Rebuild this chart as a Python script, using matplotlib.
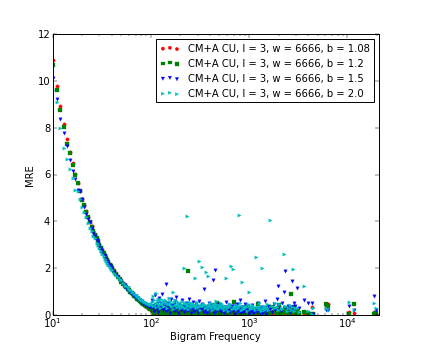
#!/usr/bin/env python
"""
MRE against bigram frequency, CM+A CU sketches with different b
"""
import matplotlib
matplotlib.use("Agg")
import matplotlib.pyplot as plt

# true frequencies (shared by all four runs)
freq_low = [10, 11, 12, 13, 14, 15, 16, 17, 18, 19,
            20, 21, 22, 23, 24, 25, 26, 27, 28, 29,
            30, 31, 32, 33, 34, 35, 36, 37, 38, 39, 40,
            42, 44, 46, 48, 50, 52, 54, 56, 58, 60,
            62, 64, 66, 68, 70, 72, 74, 76, 78, 80,
            82, 84, 86, 88, 90, 92, 94, 96, 98, 100]
freq_high = [103, 106, 110, 113, 117, 121, 126, 130, 134, 139,
             144, 149, 153, 159, 164, 170, 175, 181, 188, 194,
             201, 207, 214, 219, 226, 231, 237, 245, 253, 261,
             270, 281, 289, 298, 308, 318, 329, 340, 351, 361,
             378, 390, 402, 415, 428, 446, 459, 474, 490, 507,
             524, 543, 563, 586, 604, 627, 658, 683, 707, 731,
             758, 783, 812, 843, 871, 903, 935, 968, 1010, 1045,
             1083, 1124, 1180, 1226, 1272, 1316, 1358, 1405, 1458, 1514,
             1566, 1652, 1713, 1775, 1852, 1910, 1972, 2040, 2115, 2190,
             2286, 2342, 2430, 2520, 2610, 2670, 2740, 2780, 2880, 2960,
             3080, 3200, 3650, 3980, 4370, 4480, 6070, 6440, 10440, 11750,
             18760, 19800]
freq_extra = [105, 108, 112, 115, 119, 124, 128, 132, 137, 142,
              147, 151, 156, 161, 167, 172, 178, 184, 191, 197,
              204, 210, 217, 223, 229, 234, 241, 249, 257, 265,
              275, 285, 293, 303, 313, 323, 334, 345, 356, 369,
              384, 396, 408, 421, 437, 452, 466, 482, 498, 515,
              533, 553, 574, 595, 615, 642, 670, 695, 719, 745,
              770, 797, 827, 857, 887, 919, 951, 989, 1027, 1064,
              1103, 1150, 1203, 1249, 1294, 1337, 1381, 1431, 1486, 1540]

# b = 1.08
mre_108 = [10.9, 9.8, 8.95, 8.16, 7.54, 6.98, 6.48, 6.01, 5.66, 5.3,
           4.97, 4.7, 4.45, 4.2, 3.99, 3.8, 3.6, 3.45, 3.3, 3.12,
           3.0, 2.86, 2.77, 2.62, 2.55, 2.41, 2.35, 2.22, 2.18, 2.06, 2.02,
           1.88, 1.77, 1.63, 1.55, 1.43, 1.36, 1.26, 1.2, 1.12, 1.05,
           0.98, 0.94, 0.86, 0.83, 0.76, 0.73, 0.67, 0.64, 0.58, 0.57,
           0.5, 0.49, 0.44, 0.4, 0.39, 0.33, 0.31, 0.29, 0.24, 0.22,
           # cloud
           0.21, 0.28, 0.15, 0.24, 0.12, 0.3, 0.18, 0.09, 0.26, 0.14,
           0.2, 0.07, 0.17, 0.23, 0.11, 0.05, 0.19, 0.13, 0.08, 0.22,
           0.1, 0.16, 0.04, 0.12, 0.18, 0.06, 0.14, 0.09, 0.2, 0.03,
           0.11, 0.15, 0.07, 0.13, 0.05, 0.17, 0.1, 0.02, 0.12, 0.08,
           0.14, 0.06, 0.1, 0.03, 0.16, 0.09, 0.05, 0.12, 0.07, 0.15,
           0.04, 0.11, 0.08, 0.13, 0.02, 0.1, 0.06, 0.22, 0.09, 0.05,
           0.12, 0.07, 0.03, 0.1, 0.06, 0.14, 0.04, 0.09, 0.18, 0.05,
           0.08, 0.03, 0.11, 0.06, 0.2, 0.04, 0.09, 0.07, 0.25, 0.05,
           0.1, 0.03, 0.08, 0.15, 0.06, 0.28, 0.12, 0.05, 0.09, 0.18,
           0.07, 0.26, 0.04, 0.1, 0.31, 0.06, 0.12, 0.2, 0.08, 0.15,
           0.1, 0.05, 0.05, 0.08, 0.32, 0.02, 0.34, 0.46, 0.12, 0.1,
           0.12, 0.04]
extra_108 = [0.05, 0.12, 0.08, 0.18, 0.03, 0.1, 0.22, 0.06, 0.15, 0.04,
             0.13, 0.02, 0.09, 0.16, 0.07, 0.12, 0.03, 0.1, 0.19, 0.06,
             0.08, 0.14, 0.02, 0.11, 0.05, 0.09, 0.16, 0.04, 0.12, 0.07,
             0.03, 0.1, 0.06, 0.14, 0.02, 0.08, 0.12, 0.05, 0.09, 0.15,
             0.04, 0.11, 0.07, 0.02, 0.13, 0.06, 0.1, 0.03, 0.08, 0.12,
             0.05, 0.09, 0.02, 0.11, 0.07, 0.04, 0.13, 0.06, 0.1, 0.03,
             0.08, 0.05, 0.12, 0.02, 0.09, 0.06, 0.11, 0.04, 0.07, 0.14,
             0.03, 0.08, 0.05, 0.1, 0.02, 0.12, 0.06, 0.09, 0.04, 0.11]

# b = 1.2
mre_12 = [10.67, 9.63, 8.74, 8.02, 7.3, 6.93, 6.4, 6.0, 5.65, 5.3,
          4.92, 4.68, 4.42, 4.18, 3.97, 3.76, 3.58, 3.43, 3.27, 3.14,
          2.98, 2.88, 2.74, 2.64, 2.52, 2.44, 2.33, 2.26, 2.15, 2.1, 2.0,
          1.86, 1.76, 1.62, 1.52, 1.42, 1.34, 1.25, 1.18, 1.1, 1.06,
          0.97, 0.92, 0.88, 0.8, 0.77, 0.7, 0.68, 0.62, 0.6, 0.54,
          0.52, 0.46, 0.45, 0.41, 0.37, 0.36, 0.32, 0.28, 0.27, 0.25,
          # cloud
          0.35, 0.22, 0.4, 0.18, 0.3, 0.12, 0.27, 0.38, 0.16, 0.25,
          0.09, 0.31, 0.2, 0.14, 0.28, 0.35, 0.1, 0.24, 0.3, 0.13,
          0.26, 0.07, 0.21, 0.33, 0.15, 0.24, 1.86, 0.11, 0.19, 0.28,
          0.06, 0.22, 0.3, 0.13, 0.18, 0.09, 0.25, 0.34, 0.12, 0.2,
          0.16, 0.28, 0.07, 0.41, 0.14, 0.22, 0.1, 0.52, 0.18, 0.05,
          0.26, 0.12, 0.2, 0.08, 0.3, 0.15, 0.24, 0.11, 0.56, 0.19,
          0.07, 0.28, 0.14, 0.22, 0.05, 0.18, 0.33, 0.1, 0.24, 0.16,
          0.06, 0.2, 0.12, 0.45, 0.09, 0.26, 0.14, 0.07, 0.3, 0.11,
          0.19, 0.08, 0.35, 0.12, 0.24, 0.06, 0.16, 0.42, 0.1, 0.2,
          0.13, 0.28, 0.07, 0.18, 0.09, 0.89, 0.22, 0.12, 0.34, 0.06,
          0.15, 0.08, 0.14, 0.1, 0.04, 0.03, 0.46, 0.36, 0.04, 0.46,
          0.04, 0.1]
extra_12 = [0.15, 0.08, 0.24, 0.12, 0.3, 0.06, 0.18, 0.27, 0.1, 0.2,
            0.05, 0.22, 0.14, 0.28, 0.09, 0.19, 0.32, 0.07, 0.16, 0.25,
            0.11, 0.04, 0.2, 0.13, 0.26, 0.08, 0.17, 0.3, 0.06, 0.14,
            0.21, 0.09, 0.15, 0.03, 0.24, 0.12, 0.07, 0.19, 0.28, 0.1,
            0.05, 0.18, 0.12, 0.25, 0.08, 0.14, 0.04, 0.21, 0.11, 0.16,
            0.09, 0.23, 0.06, 0.13, 0.19, 0.03, 0.12, 0.27, 0.08, 0.15,
            0.2, 0.07, 0.14, 0.1, 0.25, 0.05, 0.17, 0.09, 0.13, 0.22,
            0.06, 0.11, 0.18, 0.04, 0.15, 0.08, 0.2, 0.12, 0.05, 0.1]

# b = 1.5
mre_15 = [10.14, 9.23, 8.37, 7.77, 7.23, 6.62, 6.16, 5.8, 5.34, 5.3,
          4.94, 4.6, 4.3, 4.1, 3.98, 3.7, 3.52, 3.38, 3.2, 3.1,
          2.94, 2.8, 2.72, 2.58, 2.5, 2.38, 2.3, 2.2, 2.14, 2.04, 1.97,
          1.84, 1.72, 1.64, 1.5, 1.45, 1.33, 1.28, 1.17, 1.13, 1.02,
          1.0, 0.9, 0.9, 0.79, 0.8, 0.7, 0.72, 0.62, 0.65, 0.55,
          0.6, 0.47, 0.52, 0.42, 0.47, 0.38, 0.43, 0.35, 0.37, 0.3,
          # cloud
          0.62, 0.4, 0.85, 0.33, 0.55, 0.72, 0.28, 0.9, 0.45, 0.38,
          1.32, 0.5, 0.3, 0.66, 0.42, 0.24, 0.58, 0.78, 0.35, 0.48,
          0.26, 0.64, 0.4, 0.31, 0.52, 0.22, 0.44, 0.7, 0.28, 0.36,
          0.55, 0.19, 0.47, 0.33, 0.6, 0.25, 0.42, 0.3, 1.1, 0.2,
          0.38, 0.5, 0.27, 0.44, 1.51, 1.94, 0.32, 0.22, 0.46, 0.29,
          0.4, 0.18, 0.35, 0.55, 0.24, 0.42, 0.3, 0.15, 0.38, 0.26,
          0.48, 0.2, 0.62, 0.33, 0.12, 0.45, 0.27, 0.36, 0.18, 0.3,
          0.42, 0.14, 0.26, 0.5, 0.22, 0.35, 0.1, 0.3, 0.6, 0.19,
          0.38, 0.25, 0.12, 0.46, 0.2, 0.7, 1.25, 0.3, 0.16, 0.52,
          0.96, 1.88, 0.24, 0.4, 0.14, 0.32, 1.43, 0.2, 0.5, 0.36,
          1.17, 0.28, 0.63, 0.5, 0.53, 0.05, 0.2, 0.2, 0.39, 0.2,
          0.82, 0.2]
extra_15 = [0.3, 0.18, 0.45, 0.25, 0.12, 0.38, 0.5, 0.2, 0.33, 0.15,
            0.42, 0.26, 0.1, 0.36, 0.22, 0.47, 0.17, 0.3, 0.08, 0.4,
            0.2, 0.34, 0.12, 0.28, 0.44, 0.16, 0.24, 0.38, 0.09, 0.31,
            0.18, 0.4, 0.26, 0.11, 0.35, 0.21, 0.46, 0.14, 0.29, 0.07,
            0.33, 0.19, 0.42, 0.25, 0.1, 0.3, 0.16, 0.37, 0.22, 0.13,
            0.28, 0.08, 0.35, 0.18, 0.26, 0.12, 0.4, 0.2, 0.06, 0.31,
            0.15, 0.27, 0.09, 0.34, 0.2, 0.12, 0.29, 0.06, 0.23, 0.17,
            0.1, 0.25, 0.14, 0.3, 0.08, 0.2, 0.12, 0.26, 0.05, 0.18]

# b = 2.0
mre_20 = [9.63, 9.09, 7.99, 7.13, 6.65, 6.24, 5.84, 5.34, 5.28, 4.95,
          4.62, 4.42, 4.2, 3.95, 3.72, 3.58, 3.36, 3.28, 3.08, 2.98,
          2.85, 2.72, 2.6, 2.52, 2.4, 2.3, 2.2, 2.14, 2.05, 1.98, 1.9,
          1.8, 1.7, 1.6, 1.52, 1.48, 1.36, 1.3, 1.22, 1.2, 1.1,
          1.08, 0.98, 0.96, 0.9, 0.86, 0.8, 0.78, 0.72, 0.7, 0.65,
          0.63, 0.6, 0.56, 0.55, 0.5, 0.52, 0.46, 0.48, 0.42, 0.45,
          # cloud
          0.55, 0.8, 0.48, 0.95, 0.6, 0.42, 0.7, 0.52, 0.38, 0.65,
          0.58, 0.45, 0.72, 0.5, 0.36, 0.96, 0.62, 0.44, 0.55, 0.4,
          0.48, 0.6, 0.35, 2.01, 0.52, 4.21, 0.42, 0.56, 0.38, 0.5,
          0.46, 1.56, 0.4, 0.55, 2.29, 0.36, 2.06, 0.48, 0.42, 1.82,
          1.66, 0.38, 0.5, 0.32, 0.45, 0.4, 0.58, 0.3, 0.44, 0.36,
          0.52, 0.28, 0.4, 1.59, 0.34, 0.48, 2.09, 1.98, 0.3, 0.42,
          0.36, 4.26, 0.5, 1.42, 0.26, 0.4, 0.33, 0.45, 0.99, 0.3,
          0.42, 0.28, 2.46, 0.35, 0.5, 0.24, 2.01, 0.38, 0.3, 0.45,
          0.22, 4.04, 0.4, 0.28, 0.52, 0.35, 0.2, 0.46, 0.3, 0.25,
          2.59, 0.38, 0.18, 0.3, 0.42, 0.22, 0.35, 1.95, 0.15, 0.28,
          0.3, 0.12, 1.22, 0.15, 0.02, 0.3, 0.31, 0.2, 0.57, 0.2,
          0.53, 0.3]
extra_20 = [0.4, 0.62, 0.33, 0.5, 0.7, 0.28, 0.46, 0.58, 0.36, 0.52,
            0.3, 0.48, 0.6, 0.38, 0.25, 0.54, 0.42, 0.32, 0.5, 0.28,
            0.44, 0.36, 0.52, 0.3, 0.46, 0.4, 0.26, 0.5, 0.34, 0.42,
            0.38, 0.28, 0.46, 0.34, 0.22, 0.42, 0.36, 0.48, 0.3, 0.4,
            0.26, 0.44, 0.34, 0.2, 0.4, 0.3, 0.46, 0.24, 0.36, 0.32,
            0.42, 0.22, 0.36, 0.3, 0.18, 0.38, 0.26, 0.34, 0.4, 0.24,
            0.3, 0.36, 0.2, 0.4, 0.28, 0.34, 0.16, 0.38, 0.24, 0.3,
            0.36, 0.2, 0.32, 0.26, 0.4, 0.18, 0.3, 0.22, 0.34, 0.28]

labels = ["CM+A CU, l = 3, w = 6666, b = 1.08",
          "CM+A CU, l = 3, w = 6666, b = 1.2",
          "CM+A CU, l = 3, w = 6666, b = 1.5",
          "CM+A CU, l = 3, w = 6666, b = 2.0"]


def main() -> None:
    plt.style.use("classic")
    plt.rcParams["font.size"] = 10.3
    plt.rcParams["xtick.major.pad"] = 0.5
    plt.rcParams["xtick.minor.pad"] = 0.5
    plt.rcParams["ytick.major.pad"] = 2.5

    freq = freq_low + freq_high + freq_extra
    series = [mre_108 + extra_108, mre_12 + extra_12,
              mre_15 + extra_15, mre_20 + extra_20]

    fig, ax = plt.subplots(figsize=(6, 5), dpi=421 / 6)
    styles = [("r", "o"), ("g", "s"), ("b", "v"), ("c", ">")]
    for ys, lab, (col, mk) in zip(series, labels, styles):
        ax.scatter(freq, ys, s=12, c=col, marker=mk, edgecolors="face",
                   linewidths=0.3, label=lab)

    ax.set_xscale("log")
    ax.set_xlim(10, 2.1e4)
    ax.set_ylim(0, 12)
    ax.set_xlabel("Bigram Frequency", labelpad=2)
    ax.set_ylabel("MRE", labelpad=2)
    ax.legend(loc="upper right", fontsize=10.3)

    fig.savefig("out.png", dpi=421 / 6)


if __name__ == "__main__":
    main()
